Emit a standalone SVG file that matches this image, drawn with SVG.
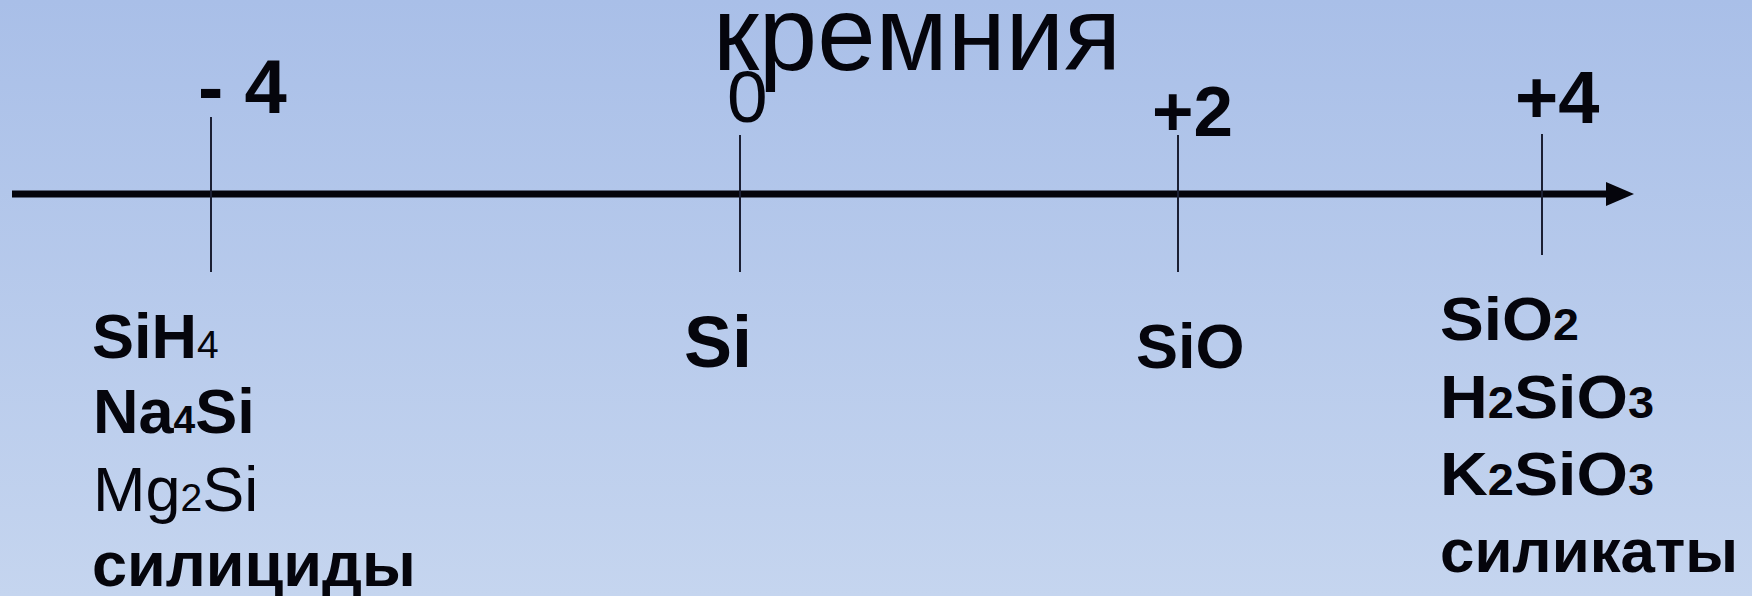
<svg xmlns="http://www.w3.org/2000/svg" width="1752" height="596" viewBox="0 0 1752 596">
  <defs>
    <linearGradient id="bg" x1="0" y1="0" x2="0" y2="1">
      <stop offset="0" stop-color="#a9bfe8"/>
      <stop offset="1" stop-color="#c5d5ef"/>
    </linearGradient>
    <style>
      text { font-family: "Liberation Sans", Arial, sans-serif; fill: #05050c; }
      .b { font-weight: bold; }
      .title { font-size: 105px; }
      .ox { font-size: 74px; font-weight: bold; }
      .f { font-size: 63px; }
      .fr { font-size: 62px; font-weight: bold; }
      .sub { font-size: 39px; }
      .subr { font-size: 44px; }
      .tick { stroke: #1b1f33; stroke-width: 2; }
      .axis { stroke: #05050c; stroke-width: 7; }
    </style>
  </defs>

  <rect width="1752" height="596" fill="url(#bg)"/>

  <!-- heading fragment -->
  <text id="title" class="title" x="713" y="70" textLength="408" lengthAdjust="spacing">кремния</text>

  <!-- number line -->
  <g id="connectors">
    <line class="axis" x1="12" y1="194" x2="1612" y2="194"/>
    <polygon points="1606,182 1634,194 1606,206" fill="#05050c"/>
  </g>

  <!-- oxidation state -4 -->
  <g id="state-minus4">
    <line class="tick" x1="211" y1="117" x2="211" y2="272"/>
    <text class="ox" x="198" y="113" style="font-size:76px">- 4</text>
    <text class="f b" x="92" y="358">SiH<tspan class="sub" font-weight="normal">4</tspan></text>
    <text class="f b" x="93" y="433">Na<tspan class="sub">4</tspan>Si</text>
    <text class="f" x="93" y="511">Mg<tspan class="sub">2</tspan>Si</text>
    <text class="f b" x="92" y="586">силициды</text>
  </g>

  <!-- oxidation state 0 -->
  <g id="state-0">
    <line class="tick" x1="740" y1="135" x2="740" y2="272"/>
    <text x="727" y="122" style="font-size:73px">0</text>
    <text class="b" x="684" y="367" style="font-size:72px">Si</text>
  </g>

  <!-- oxidation state +2 -->
  <g id="state-plus2">
    <line class="tick" x1="1178" y1="135" x2="1178" y2="272"/>
    <text class="ox" x="1152" y="136" style="font-size:71px">+2</text>
    <text class="f b" x="1136" y="368">SiO</text>
  </g>

  <!-- oxidation state +4 -->
  <g id="state-plus4">
    <line class="tick" x1="1542" y1="134" x2="1542" y2="255"/>
    <text class="ox" x="1515" y="123">+4</text>
    <text class="fr" x="1440" y="340" textLength="139" lengthAdjust="spacingAndGlyphs">SiO<tspan class="subr">2</tspan></text>
    <text class="fr" x="1440" y="418" textLength="214" lengthAdjust="spacingAndGlyphs">H<tspan class="subr">2</tspan>SiO<tspan class="subr">3</tspan></text>
    <text class="fr" x="1440" y="495" textLength="214" lengthAdjust="spacingAndGlyphs">K<tspan class="subr">2</tspan>SiO<tspan class="subr">3</tspan></text>
    <text class="fr" x="1440" y="572" textLength="298" lengthAdjust="spacingAndGlyphs">силикаты</text>
  </g>
</svg>
